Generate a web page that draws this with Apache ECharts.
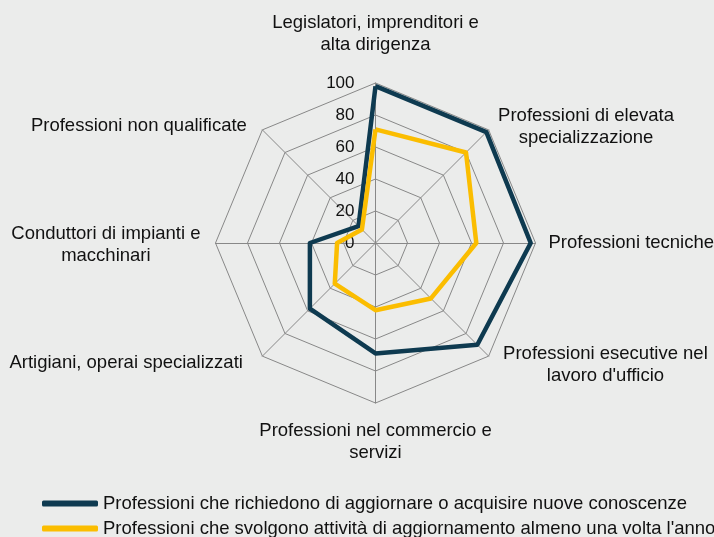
<!DOCTYPE html>
<html>
<head>
<meta charset="utf-8">
<script src="https://cdn.jsdelivr.net/npm/echarts@6/dist/echarts.min.js"></script>
<style>
  html, body { margin: 0; padding: 0; background: #ebeceb; }
  #chart { width: 714px; height: 537px; }
</style>
</head>
<body>
<div id="chart"></div>
<script>
// categorie in senso orario partendo dall'alto
const categories = [
  "Legislatori, imprenditori e\nalta dirigenza",
  "Professioni di elevata\nspecializzazione",
  "Professioni tecniche",
  "Professioni esecutive nel\nlavoro d'ufficio",
  "Professioni nel commercio e\nservizi",
  "Artigiani, operai specializzati",
  "Conduttori di impianti e\nmacchinari",
  "Professioni non qualificate",
];
const conoscenze = [98, 98, 97, 90, 69, 58, 41, 15];
const aggiornamento = [71, 80, 63, 49, 42, 36, 24, 12];
const seriesNames = [
  "Professioni che richiedono di aggiornare o acquisire nuove conoscenze",
  "Professioni che svolgono attività di aggiornamento almeno una volta l'anno",
];

// spostamenti extra delle etichette (stesso ordine delle categorie)
const nameShift = [
  { below: 15 }, { h: 1, above: 12 }, { h: 1 }, { h: 6 },
  { above: 5 }, { h: 11, below: 4 }, { h: 3, above: 4 }, { h: 7, above: 10 },
];

// echarts disegna il radar in senso antiorario: riordino
const ccw = (arr) => [arr[0]].concat(arr.slice(1).reverse());

const FONT = "Liberation Sans, Arial, sans-serif";
const chart = echarts.init(document.getElementById("chart"));

// stili rich: righe centrate, spaziatori vuoti per lo spostamento verticale
const rich = {};
categories.forEach((c, i) => {
  const s = nameShift[i];
  const h = s.h || 0;
  rich["n" + i] = {
    align: "center", fontSize: 18.5, lineHeight: 22, color: "#111",
    padding: i >= 5 ? [0, h, 0, 0] : [0, 0, 0, h],
  };
  rich["a" + i] = { align: "center", fontSize: 1, lineHeight: s.above || 0 };
  rich["b" + i] = { align: "center", fontSize: 1, lineHeight: s.below || 0 };
});

const indicator = ccw(categories).map((name, i) => ({
  name: name,
  max: 100,
  min: 0,
  axisLabel: i === 0 ? { show: true } : undefined,
}));

const option = {
  backgroundColor: "#ebeceb",
  textStyle: { fontFamily: FONT },
  legend: [0, 1].map((k) => ({
    left: 42,
    top: 494 + k * 25,
    padding: 0,
    itemWidth: 56,
    itemHeight: 6,
    icon: "roundRect",
    textStyle: { fontSize: 18.5, color: "#111" },
    data: [seriesNames[k]],
  })),
  radar: {
    center: [375.5, 243],
    radius: 160,
    shape: "polygon",
    splitNumber: 5,
    indicator: indicator,
    nameGap: 12,
    axisName: {
      color: "#111",
      fontSize: 18.5,
      lineHeight: 22,
      rich: rich,
      formatter: (name) => {
        const i = categories.indexOf(name);
        const s = nameShift[i];
        const out = name.split("\n").map((ln) => "{n" + i + "|" + ln + "}");
        if (s.above) out.unshift("{a" + i + "| }");
        if (s.below) out.push("{b" + i + "| }");
        return out.join("\n");
      },
    },
    axisLine: { lineStyle: { color: "#888888", width: 1 } },
    splitLine: { lineStyle: { color: "#888888", width: 1 } },
    splitArea: { show: false },
    axisTick: { show: false },
    axisLabel: { show: false, color: "#111", fontSize: 17, margin: 21 },
  },
  series: [
    {
      type: "radar",
      symbol: "none",
      data: [
        {
          name: seriesNames[0],
          value: ccw(conoscenze),
          lineStyle: { color: "#0e3a50", width: 4.5 },
          itemStyle: { color: "#0e3a50" },
        },
        {
          name: seriesNames[1],
          value: ccw(aggiornamento),
          lineStyle: { color: "#fbbd00", width: 4.5 },
          itemStyle: { color: "#fbbd00" },
        },
      ],
    },
  ],
};

chart.setOption(option);
</script>
</body>
</html>
